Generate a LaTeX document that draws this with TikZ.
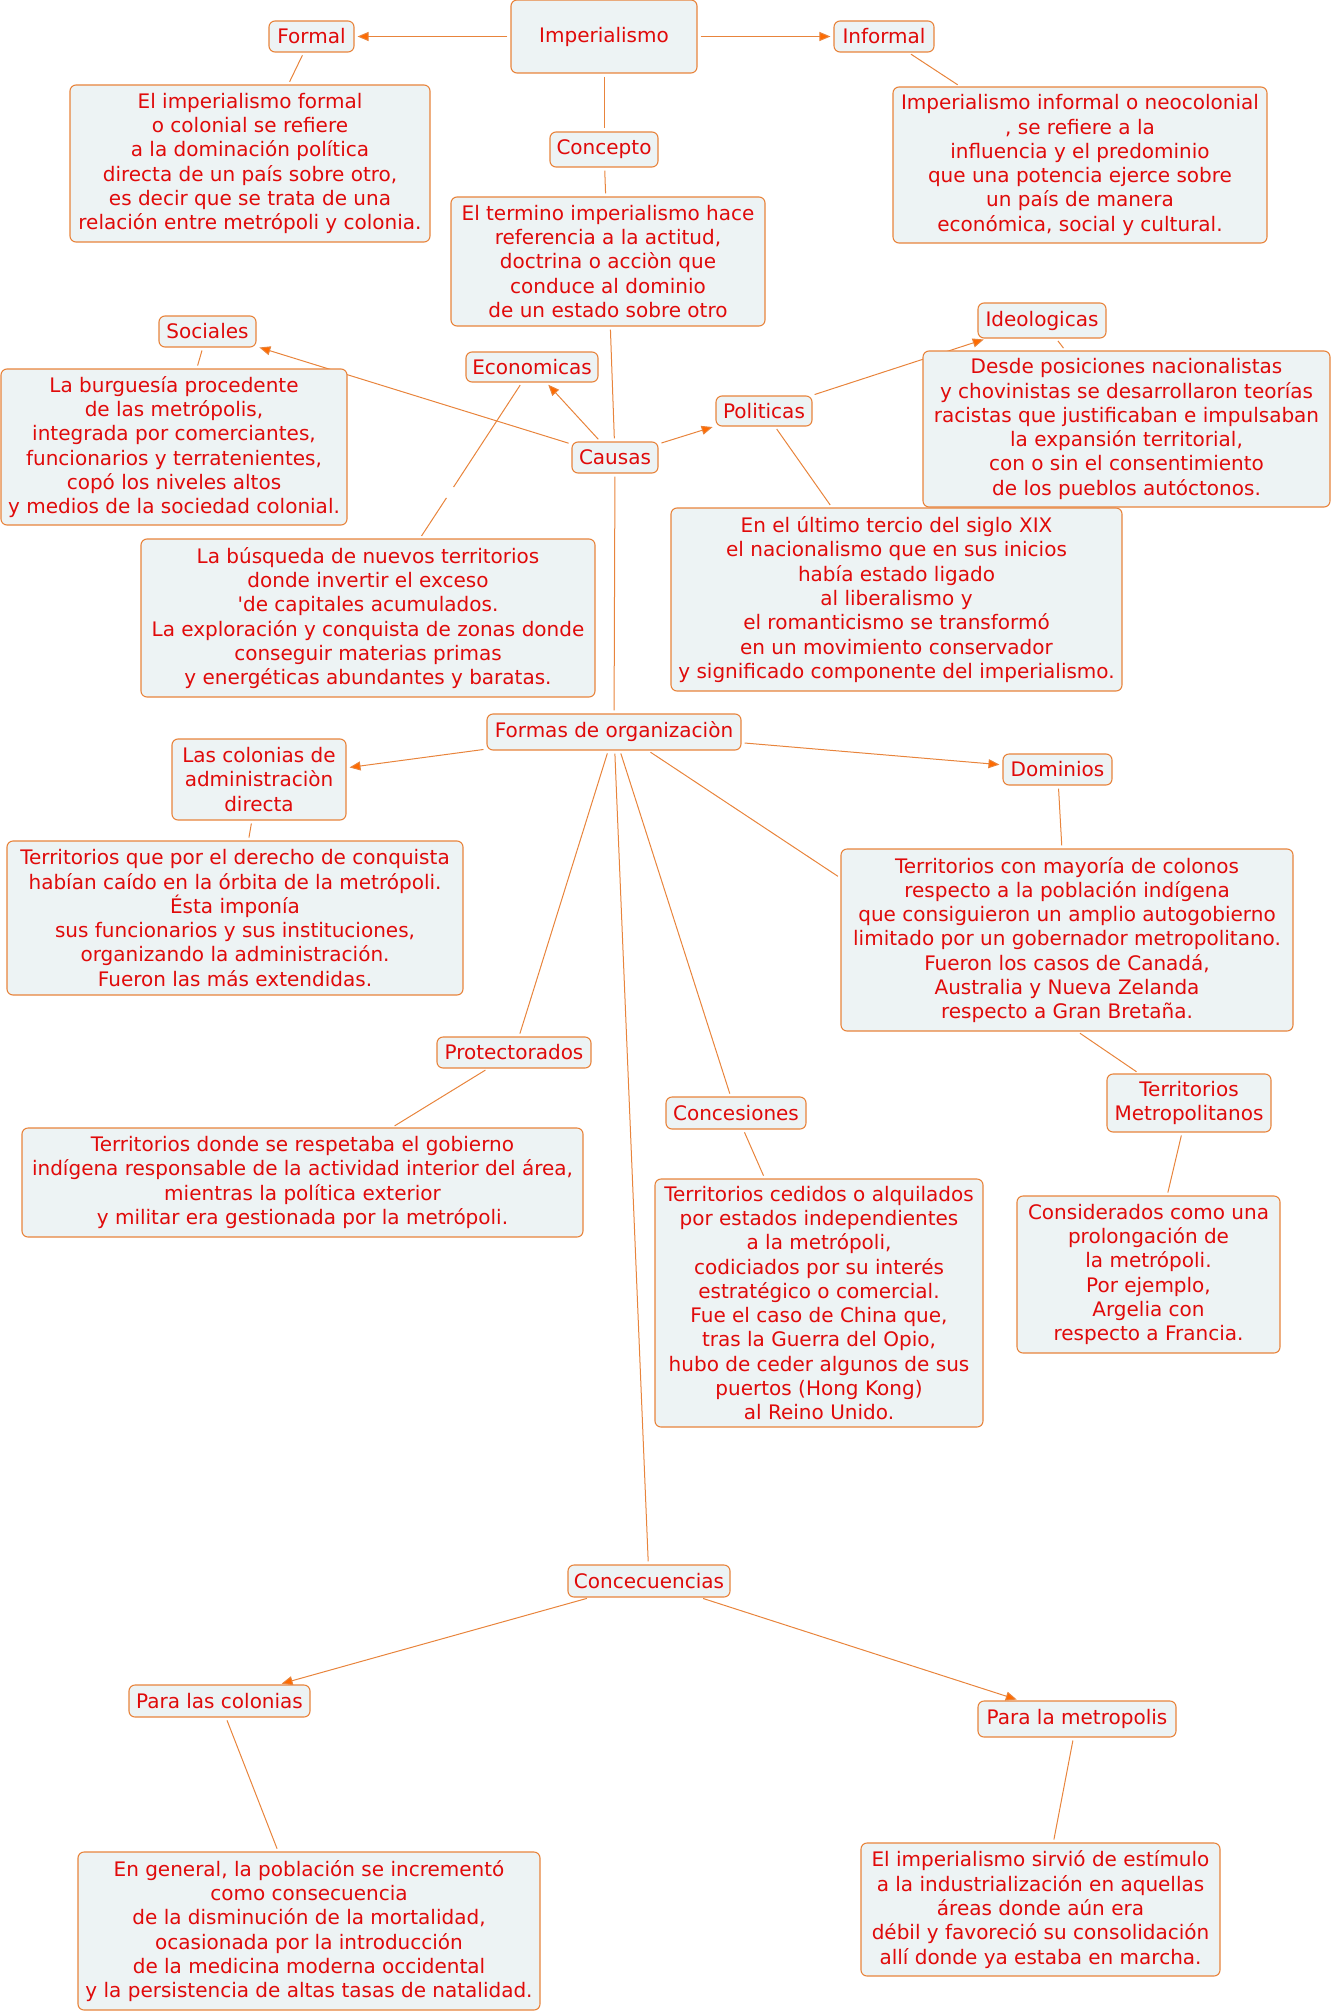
\documentclass[tikz,border=0pt]{standalone}
\usepackage{fontspec}
\setmainfont{DejaVu Sans}
\usetikzlibrary{arrows.meta,calc}
\definecolor{boxfill}{HTML}{EDF3F4}
\definecolor{bordercol}{HTML}{E8843C}
\definecolor{textcol}{HTML}{E00A0A}
\definecolor{linecol}{HTML}{E8843C}
\definecolor{tipcol}{HTML}{FF6A00}
\pgfdeclarelayer{background}
\pgfsetlayers{background,main}
\newcommand\mybox[6]{\node[cbox,minimum width=#4pt,minimum height=#5pt] (#1) at (#2,#3) {#6};}
\begin{document}
\begin{tikzpicture}[x=1pt,y=-1pt,
  cbox/.style={draw=bordercol,fill=boxfill,rounded corners=6pt,line width=1.1pt,
    text=textcol,align=center,inner sep=0pt,font=\fontsize{20}{24.3}\selectfont},
  conn/.style={draw=linecol,line width=1pt,shorten <=3pt,shorten >=3pt},
  arr/.style={conn,-{Triangle[length=11pt,width=9pt,fill=tipcol]},color=linecol}]
\useasboundingbox (0,0) rectangle (1333,2012);

% ---- boxes ----
\mybox{imp}{604}{36.5}{186}{73}{Imperialismo}
\mybox{formal}{311.5}{36.5}{85}{31}{Formal}
\mybox{informal}{884}{36.5}{100}{31}{Informal}
\mybox{concepto}{604}{149.5}{108}{35}{Concepto}
\mybox{tformal}{250}{163.5}{360}{157}{El imperialismo formal\\o colonial se refiere\\a la dominación política\\directa de un país sobre otro,\\es decir que se trata de una\\relación entre metrópoli y colonia.}
\mybox{tinformal}{1080}{165}{374}{156}{Imperialismo informal o neocolonial\\, se refiere a la\\influencia y el predominio\\que una potencia ejerce sobre\\un país de manera\\económica, social y cultural.}
\mybox{tconcepto}{608}{261.5}{314}{129}{El termino imperialismo hace\\referencia a la actitud,\\doctrina o acciòn que\\conduce al dominio\\de un estado sobre otro}
\mybox{sociales}{207.5}{331.5}{97}{31}{Sociales}
\mybox{tsociales}{174}{447}{346}{156}{La burguesía procedente\\de las metrópolis,\\integrada por comerciantes,\\funcionarios y terratenientes,\\copó los niveles altos\\y medios de la sociedad colonial.}
\mybox{economicas}{532}{367}{132}{30}{Economicas}
\mybox{teconomicas}{368}{618}{454}{158}{La búsqueda de nuevos territorios\\donde invertir el exceso\\\textquotesingle de capitales acumulados.\\La exploración y conquista de zonas donde\\conseguir materias primas\\y energéticas abundantes y baratas.}
\mybox{causas}{615}{457.5}{86}{31}{Causas}
\mybox{politicas}{764}{411}{96}{30}{Politicas}
\mybox{tpoliticas}{896.5}{599.5}{451}{183}{En el último tercio del siglo XIX\\el nacionalismo que en sus inicios\\había estado ligado\\al liberalismo y\\el romanticismo se transformó\\en un movimiento conservador\\y significado componente del imperialismo.}
\mybox{ideologicas}{1042}{320.5}{128}{35}{Ideologicas}
\mybox{tideologicas}{1126.5}{429}{407}{156}{Desde posiciones nacionalistas\\y chovinistas se desarrollaron teorías\\racistas que justificaban e impulsaban\\la expansión territorial,\\con o sin el consentimiento\\de los pueblos autóctonos.}
\mybox{formas}{614}{732}{254}{36}{Formas de organizaciòn}
\mybox{lascolonias}{259}{779.5}{174}{81}{Las colonias de\\administraciòn\\directa}
\mybox{tlascolonias}{235}{918}{456}{154}{Territorios que por el derecho de conquista\\habían caído en la órbita de la metrópoli.\\Ésta imponía\\sus funcionarios y sus instituciones,\\organizando la administración.\\Fueron las más extendidas.}
\mybox{protectorados}{514}{1052.5}{154}{31}{Protectorados}
\mybox{tprotectorados}{302.5}{1182.5}{561}{109}{Territorios donde se respetaba el gobierno\\indígena responsable de la actividad interior del área,\\mientras la política exterior\\y militar era gestionada por la metrópoli.}
\mybox{dominios}{1057.5}{769.5}{109}{31}{Dominios}
\mybox{tdominios}{1067}{940}{452}{182}{Territorios con mayoría de colonos\\respecto a la población indígena\\que consiguieron un amplio autogobierno\\limitado por un gobernador metropolitano.\\Fueron los casos de Canadá,\\Australia y Nueva Zelanda\\respecto a Gran Bretaña.}
\mybox{tm}{1189}{1103}{164}{58}{Territorios\\Metropolitanos}
\mybox{ttm}{1148.5}{1274.5}{263}{157}{Considerados como una\\prolongación de\\la metrópoli.\\Por ejemplo,\\Argelia con\\respecto a Francia.}
\mybox{concesiones}{736}{1113}{140}{32}{Concesiones}
\mybox{tconcesiones}{819}{1303}{328}{248}{Territorios cedidos o alquilados\\por estados independientes\\a la metrópoli,\\codiciados por su interés\\estratégico o comercial.\\Fue el caso de China que,\\tras la Guerra del Opio,\\hubo de ceder algunos de sus\\puertos (Hong Kong)\\al Reino Unido.}
\mybox{concecuencias}{649}{1581}{162}{32}{Concecuencias}
\mybox{paracolonias}{219.5}{1701}{181}{32}{Para las colonias}
\mybox{parametro}{1077}{1719}{198}{36}{Para la metropolis}
\mybox{tparacolonias}{309}{1931}{462}{158}{En general, la población se incrementó\\como consecuencia\\de la disminución de la mortalidad,\\ocasionada por la introducción\\de la medicina moderna occidental\\y la persistencia de altas tasas de natalidad.}
\mybox{tparametro}{1040.5}{1909.5}{359}{133}{El imperialismo sirvió de estímulo\\a la industrialización en aquellas\\áreas donde aún era\\débil y favoreció su consolidación\\allí donde ya estaba en marcha.}

% ---- connectors (behind the boxes) ----
\begin{pgfonlayer}{background}
\draw[arr] (imp) -- (formal);
\draw[arr] (imp) -- (informal);
\draw[conn] (imp) -- (concepto);
\draw[conn] (concepto) -- (tconcepto);
\draw[conn] (formal) -- (tformal);
\draw[conn] (informal) -- (tinformal);
\draw[conn] (tconcepto) -- (causas);
\draw[arr] (causas) -- (sociales);
\draw[conn] (sociales) -- (tsociales);
\draw[arr] (causas) -- (economicas);
\path (economicas) -- (teconomicas) coordinate[pos=0.67] (gap1) coordinate[pos=0.74] (gap2);
\draw[conn,shorten >=0pt] (economicas) -- (gap1);
\draw[conn,shorten <=0pt] (gap2) -- (teconomicas);
\draw[arr] (causas) -- (politicas);
\draw[arr] (politicas) -- (ideologicas);
\draw[conn] (ideologicas) -- (tideologicas);
\draw[conn] (politicas) -- (tpoliticas);
\draw[conn] (causas) -- (formas);
\draw[arr] (formas) -- (lascolonias);
\draw[conn] (lascolonias) -- (tlascolonias);
\draw[conn] (formas) -- (protectorados);
\draw[conn] (protectorados) -- (tprotectorados);
\draw[conn] (formas) -- (concecuencias);
\draw[conn] (formas) -- (concesiones);
\draw[conn] (concesiones) -- (tconcesiones);
\draw[conn] ($(formas.south)+(34,0)$) -- ($(tdominios.west)+(0,-62)$);
\draw[arr] (formas) -- (dominios);
\draw[conn] (dominios) -- (tdominios);
\draw[conn] ($(tdominios.south)+(10.5,0)$) -- ($(tm.north)+(-50,0)$);
\draw[conn] (tm) -- (ttm);
\draw[arr] (concecuencias) -- (paracolonias);
\draw[arr] (concecuencias) -- (parametro);
\draw[conn] (paracolonias) -- (tparacolonias);
\draw[conn] (parametro) -- (tparametro);
\end{pgfonlayer}
\end{tikzpicture}
\end{document}
